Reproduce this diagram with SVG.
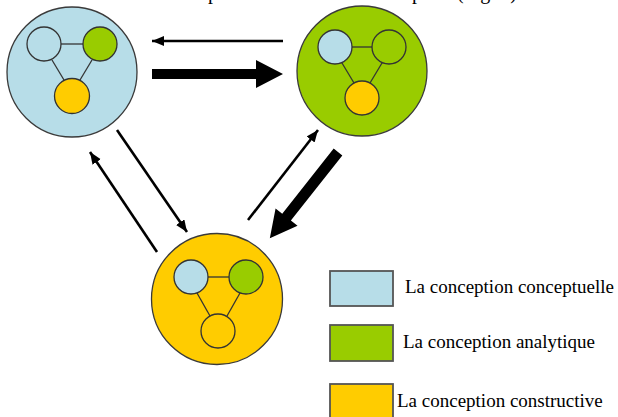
<svg xmlns="http://www.w3.org/2000/svg" width="618" height="417" viewBox="0 0 618 417">
  <defs>
    <style>
      .big { stroke: #3a3a3a; stroke-width: 1.3; }
      .small { stroke: #333; stroke-width: 1.3; }
      .link { stroke: #333; stroke-width: 1.3; fill: none; }
      .blue { fill: #b7dde8; }
      .green { fill: #99cc00; }
      .yellow { fill: #ffcc00; }
      .thin { stroke: #000; stroke-width: 2.6; fill: none; marker-end: url(#head); }
      .thick { fill: #000; }
      .lbl { font-family: "Liberation Serif", "Times New Roman", serif; font-size: 19px; fill: #000; }
      .title { font-family: "Liberation Serif", "Times New Roman", serif; font-size: 20px; fill: #000; }
      .key { stroke: #555; stroke-width: 1.8; }
    </style>
    <marker id="head" markerUnits="userSpaceOnUse" markerWidth="14" markerHeight="12" refX="12" refY="5" orient="auto">
      <path d="M0,0 L12,5 L0,10 Z" fill="#000"/>
    </marker>
  </defs>

  <rect width="618" height="417" fill="#ffffff"/>

  <g id="title">
    <text class="title" y="-1.5"><tspan x="208">p</tspan><tspan x="412">p</tspan><tspan x="457">(Fig. 1)</tspan></text>
  </g>

  <g id="connectors">
    <line class="thin" x1="283" y1="41" x2="152" y2="41"/>
    <polygon class="thick" points="152,69 256,69 256,60 283,74 256,88 256,79 152,79"/>
    <line class="thin" x1="157" y1="252" x2="90" y2="152"/>
    <line class="thin" x1="117" y1="130" x2="187" y2="232"/>
    <line class="thin" x1="248" y1="220" x2="318" y2="130"/>
    <g transform="translate(338,152) rotate(128.3)">
      <polygon class="thick" points="0,-5.5 83,-5.5 83,-14 110,0 83,14 83,5.5 0,5.5"/>
    </g>
  </g>

  <g id="node-conceptuelle">
    <circle class="big blue" cx="72" cy="72" r="65"/>
    <line class="link" x1="61" y1="44" x2="83" y2="44"/>
    <line class="link" x1="52" y1="60" x2="64" y2="80"/>
    <line class="link" x1="92" y1="60" x2="80" y2="80"/>
    <circle class="small blue" cx="44" cy="44" r="17"/>
    <circle class="small green" cx="100" cy="44" r="17"/>
    <circle class="small yellow" cx="72" cy="96" r="17.5"/>
  </g>

  <g id="node-analytique">
    <circle class="big green" cx="362" cy="71" r="65"/>
    <line class="link" x1="352" y1="47" x2="372" y2="47"/>
    <line class="link" x1="342" y1="63" x2="354" y2="83"/>
    <line class="link" x1="382" y1="63" x2="370" y2="83"/>
    <circle class="small blue" cx="335" cy="47" r="17"/>
    <circle class="small green" cx="389" cy="47" r="17"/>
    <circle class="small yellow" cx="362" cy="98" r="17"/>
  </g>

  <g id="node-constructive">
    <circle class="big yellow" cx="217" cy="299" r="65.5"/>
    <line class="link" x1="207" y1="277" x2="230" y2="277"/>
    <line class="link" x1="197" y1="293" x2="210" y2="316"/>
    <line class="link" x1="240" y1="293" x2="227" y2="316"/>
    <circle class="small blue" cx="191" cy="277" r="17"/>
    <circle class="small green" cx="246" cy="277" r="17"/>
    <circle class="small yellow" cx="218" cy="331" r="17"/>
  </g>

  <g id="legend">
    <rect class="key blue" x="330" y="271" width="63" height="35"/>
    <text class="lbl" x="405" y="293">La conception conceptuelle</text>
    <rect class="key green" x="330" y="325" width="63" height="36"/>
    <text class="lbl" x="403" y="348">La conception analytique</text>
    <rect class="key yellow" x="330" y="384" width="63" height="40"/>
    <text class="lbl" x="397" y="407">La conception constructive</text>
  </g>
</svg>
